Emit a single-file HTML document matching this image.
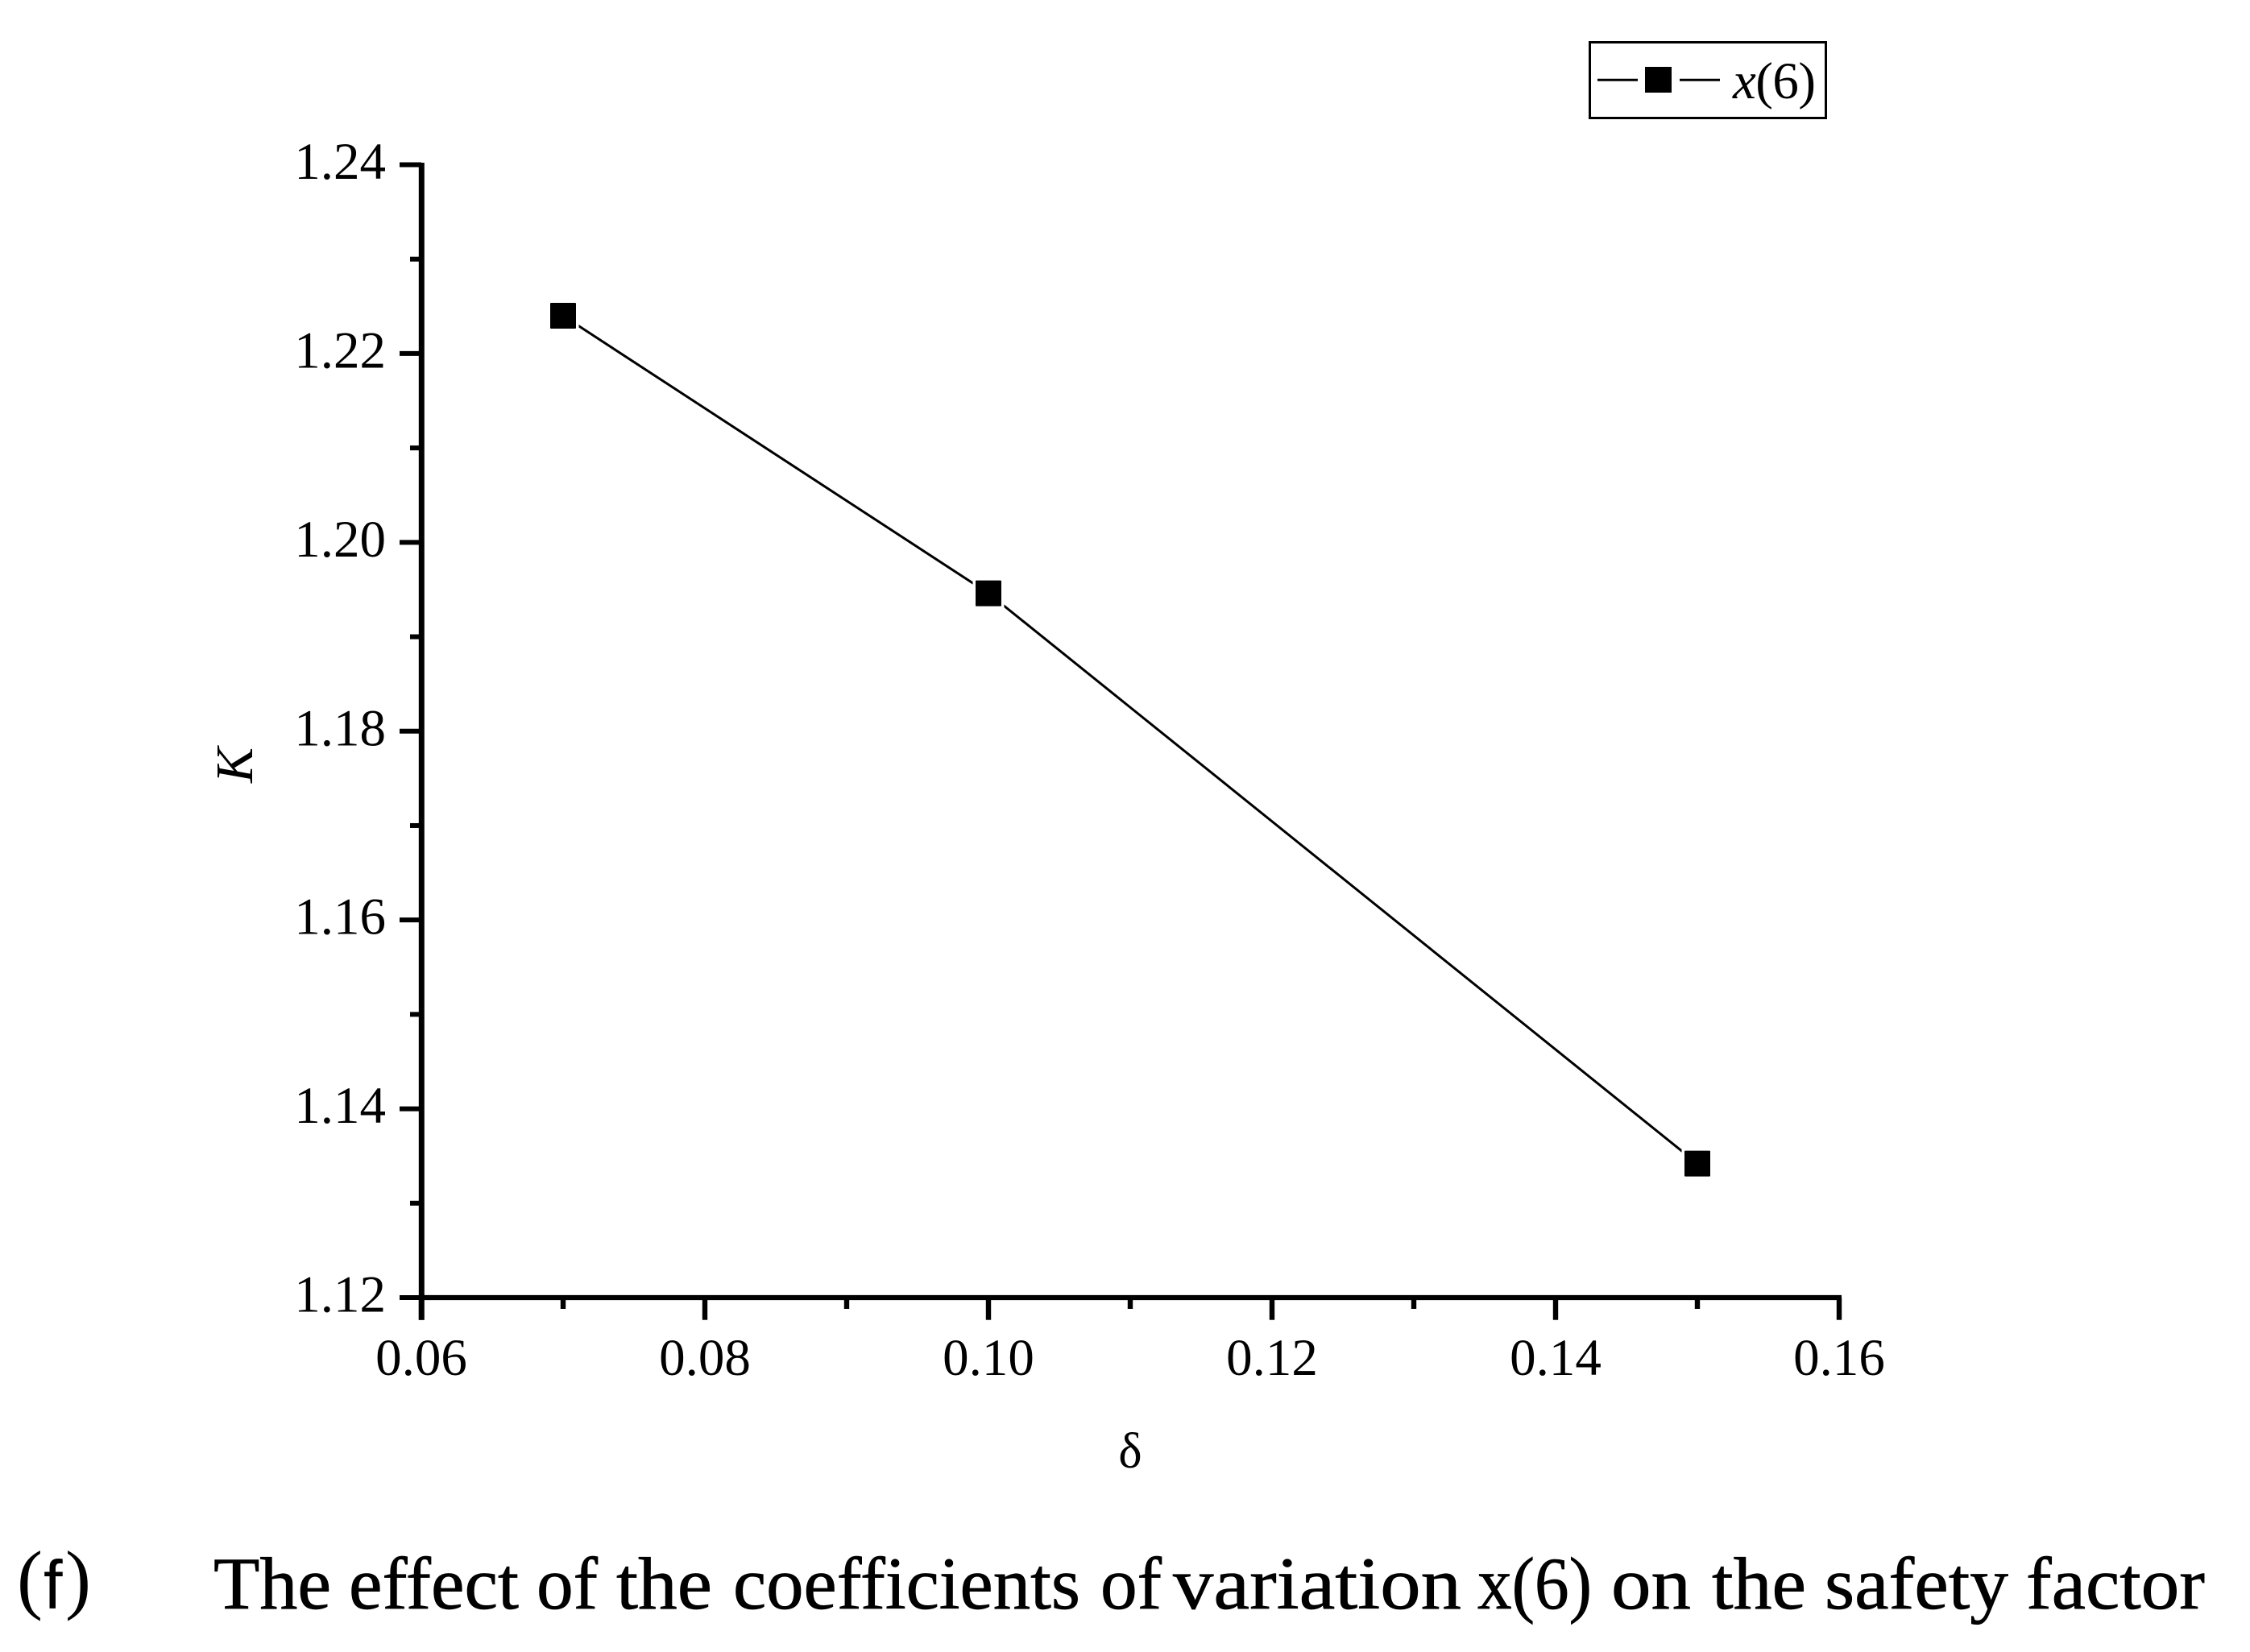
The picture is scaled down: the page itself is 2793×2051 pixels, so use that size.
<!DOCTYPE html>
<html lang="en">
<head>
<meta charset="utf-8">
<title>The effect of the coefficients of variation x(6) on the safety factor</title>
<style>
html,body{margin:0;padding:0;background:#fff;width:2793px;height:2051px;overflow:hidden}
svg{display:block}
text{font-family:"Liberation Serif",serif;fill:#000}
.cap{font-size:92px;stroke:#000;stroke-width:.7px}
</style>
</head>
<body>
<svg id="chart" xmlns="http://www.w3.org/2000/svg" width="2793" height="2051" viewBox="0 0 2793 2051">
  <rect x="0" y="0" width="2793" height="2051" fill="#fff"/>
  <g id="axes"></g>
  <g id="series"></g>

  <text transform="translate(313,950) rotate(-90)" text-anchor="middle" font-size="66" font-style="italic">K</text>
  <text x="1403" y="1822" text-anchor="middle" font-size="62">δ</text>

  <g>
    <rect x="1973.5" y="52.5" width="293" height="94" fill="#fff" stroke="#000" stroke-width="3"/>
    <line x1="1983" y1="99.3" x2="2033" y2="99.3" stroke="#000" stroke-width="3"/>
    <rect x="2042" y="83" width="33" height="32" fill="#000"/>
    <line x1="2085" y1="99.3" x2="2135" y2="99.3" stroke="#000" stroke-width="3"/>
    <text x="2151" y="122" font-size="65" textLength="103" lengthAdjust="spacing"><tspan font-style="italic">x</tspan>(6)</text>
  </g>

  <g>
    <text x="21" y="1992" font-size="96">(</text>
    <text x="54" y="1997" font-size="85" style="font-family:'Liberation Sans',sans-serif">f</text>
    <text x="81" y="1992" font-size="96">)</text>
    <g>
      <text class="cap" x="265" y="1997" textLength="146" lengthAdjust="spacingAndGlyphs">The</text>
      <text class="cap" x="433" y="1997" textLength="211" lengthAdjust="spacingAndGlyphs">effect</text>
      <text class="cap" x="666" y="1997" textLength="76" lengthAdjust="spacingAndGlyphs">of</text>
      <text class="cap" x="765" y="1997" textLength="119" lengthAdjust="spacingAndGlyphs">the</text>
      <text class="cap" x="910" y="1997" textLength="431" lengthAdjust="spacingAndGlyphs">coefficients</text>
      <text class="cap" x="1366" y="1997" textLength="76" lengthAdjust="spacingAndGlyphs">of</text>
      <text class="cap" x="1456" y="1997" textLength="358" lengthAdjust="spacingAndGlyphs">variation</text>
      <text class="cap" x="1834" y="1997" textLength="142" lengthAdjust="spacingAndGlyphs">x(6)</text>
      <text class="cap" x="2000" y="1997" textLength="99" lengthAdjust="spacingAndGlyphs">on</text>
      <text class="cap" x="2125" y="1997" textLength="117" lengthAdjust="spacingAndGlyphs">the</text>
      <text class="cap" x="2265" y="1997" textLength="228" lengthAdjust="spacingAndGlyphs">safety</text>
      <text class="cap" x="2515" y="1997" textLength="222" lengthAdjust="spacingAndGlyphs">factor</text>
    </g>
  </g>
</svg>
<script>
// Chart data
const deltaValues = [0.07, 0.10, 0.15];
const kValues = [1.224, 1.1946, 1.1342];
const xTickValues = [0.06, 0.08, 0.10, 0.12, 0.14, 0.16];
const xTickLabels = ["0.06", "0.08", "0.10", "0.12", "0.14", "0.16"];
const xMinorValues = [0.07, 0.09, 0.11, 0.13, 0.15];
const yTickValues = [1.12, 1.14, 1.16, 1.18, 1.20, 1.22, 1.24];
const yTickLabels = ["1.12", "1.14", "1.16", "1.18", "1.20", "1.22", "1.24"];
const yMinorValues = [1.13, 1.15, 1.17, 1.19, 1.21, 1.23];

// Axis functions
const X0 = 523, X1 = 2283, Y0 = 1611, Y1 = 204.5;
const xDomain = [0.06, 0.16], yDomain = [1.12, 1.24];
function xScale(v) { return X0 + (v - xDomain[0]) / (xDomain[1] - xDomain[0]) * (X1 - X0); }
function yScale(v) { return Y0 - (v - yDomain[0]) / (yDomain[1] - yDomain[0]) * (Y0 - Y1); }

const NS = 'http://www.w3.org/2000/svg';
const axes = document.getElementById('axes');
const series = document.getElementById('series');

function drawLine(parent, x1, y1, x2, y2, w) {
  const l = document.createElementNS(NS, 'line');
  l.setAttribute('x1', x1);
  l.setAttribute('y1', y1);
  l.setAttribute('x2', x2);
  l.setAttribute('y2', y2);
  l.setAttribute('stroke', '#000');
  l.setAttribute('stroke-width', w);
  parent.appendChild(l);
  return l;
}

function drawLabel(x, y, anchor, str) {
  const t = document.createElementNS(NS, 'text');
  t.setAttribute('x', x);
  t.setAttribute('y', y);
  t.setAttribute('text-anchor', anchor);
  t.setAttribute('font-size', '65');
  t.textContent = str;
  axes.appendChild(t);
  return t;
}

const yAxisLine = drawLine(axes, X0 + 0.3, Y1 - 2.5, X0 + 0.3, 1638.7, 7);


const xAxisLine = drawLine(axes, X0, Y0, X1 + 3, Y0, 6.3);



xTickValues.forEach(function (v, i) {
  const px = xScale(v);
  const tick = drawLine(axes, px, Y0, px, 1638.7, 6.4);
  
  
  const label = drawLabel(px, 1707, 'middle', xTickLabels[i]);
  
  
});
xMinorValues.forEach(function (v) {
  const px = xScale(v);
  const tick = drawLine(axes, px, Y0, px, 1625, 6.4);
  
  
});
yTickValues.forEach(function (v, i) {
  const py = yScale(v);
  const tick = drawLine(axes, 496, py, X0, py, 6);
  
  
  const label = drawLabel(479, py + 17.5, 'end', yTickLabels[i]);
  
  
});
yMinorValues.forEach(function (v) {
  const py = yScale(v);
  const tick = drawLine(axes, 509, py, X0, py, 6);
  
  
});

// Series line
const linePath = document.createElementNS(NS, 'polyline');


linePath.setAttribute('points', deltaValues.map(function (d, i) { return xScale(d) + ',' + yScale(kValues[i]); }).join(' '));
linePath.setAttribute('fill', 'none');
linePath.setAttribute('stroke', '#000');
linePath.setAttribute('stroke-width', '3');
series.appendChild(linePath);

// Markers with a white halo so the line stops short of each square
deltaValues.forEach(function (d, i) {
  const size = 32;
  const halo = document.createElementNS(NS, 'rect');
  
  
  halo.setAttribute('x', xScale(d) - size / 2 - 3.5);
  halo.setAttribute('y', yScale(kValues[i]) - size / 2 - 3.5);
  halo.setAttribute('width', size + 7);
  halo.setAttribute('height', size + 7);
  halo.setAttribute('fill', '#fff');
  series.appendChild(halo);
  const m = document.createElementNS(NS, 'rect');
  
  
  m.setAttribute('x', xScale(d) - size / 2);
  m.setAttribute('y', yScale(kValues[i]) - size / 2);
  m.setAttribute('width', size);
  m.setAttribute('height', size);
  m.setAttribute('rx', '1');
  m.setAttribute('fill', '#000');
  series.appendChild(m);
});
</script>
</body>
</html>
